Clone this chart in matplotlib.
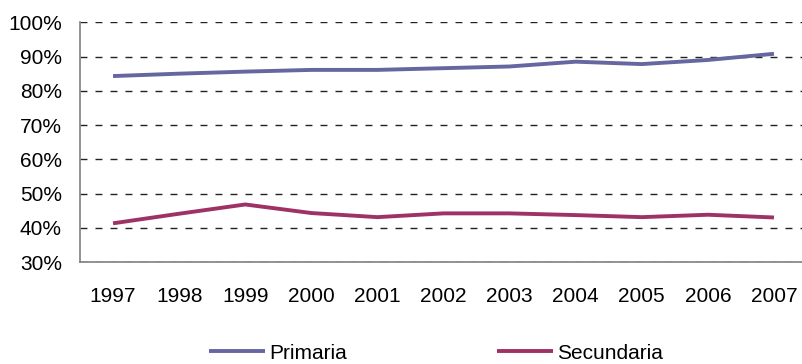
import matplotlib.pyplot as plt
from matplotlib.ticker import PercentFormatter

years = ['1997', '1998', '1999', '2000', '2001', '2002', '2003', '2004', '2005', '2006', '2007']
primaria = [84.3, 85.0, 85.6, 86.1, 86.1, 86.6, 87.1, 88.5, 87.8, 89.0, 90.8]
secundaria = [41.3, 44.1, 46.8, 44.3, 43.1, 44.2, 44.2, 43.7, 43.1, 43.8, 43.0]

plt.rcParams['font.family'] = ['Liberation Sans', 'DejaVu Sans']

fig = plt.figure(figsize=(8.03, 3.64), dpi=100)
ax = fig.add_axes([80/803, 1-262/364, (807-80)/803, (262-22.3)/364])

x = range(len(years))
ax.plot(x, primaria, color='#6666a0', lw=2.8, label='Primaria', solid_capstyle='butt')
ax.plot(x, secundaria, color='#9e3266', lw=2.8, label='Secundaria', solid_capstyle='butt')

ax.set_xlim(-0.5, len(years) - 0.5)
ax.set_ylim(30, 100)
ax.set_yticks(range(30, 101, 10))
ax.yaxis.set_major_formatter(PercentFormatter(decimals=0))
ax.set_xticks(list(x))
ax.set_xticklabels(years)
ax.tick_params(axis='both', length=0, labelsize=15)
ax.tick_params(axis='x', pad=18)
ax.tick_params(axis='y', pad=13)

ax.grid(axis='y', color='#222222', linestyle=(0, (5, 5.8)), linewidth=1)
ax.set_axisbelow(True)
for s in ['top', 'right']:
    ax.spines[s].set_visible(False)
ax.spines['left'].set_color('#808080')
ax.spines['bottom'].set_color('#808080')
ax.spines['left'].set_linewidth(1.2)
ax.spines['bottom'].set_linewidth(1.2)

fig.legend(loc='center', bbox_to_anchor=(0.543, 0.03), ncol=2, frameon=False,
           fontsize=15, handlelength=2.7, handletextpad=0.2, columnspacing=7.2)

fig.savefig('out.png', dpi=100)
